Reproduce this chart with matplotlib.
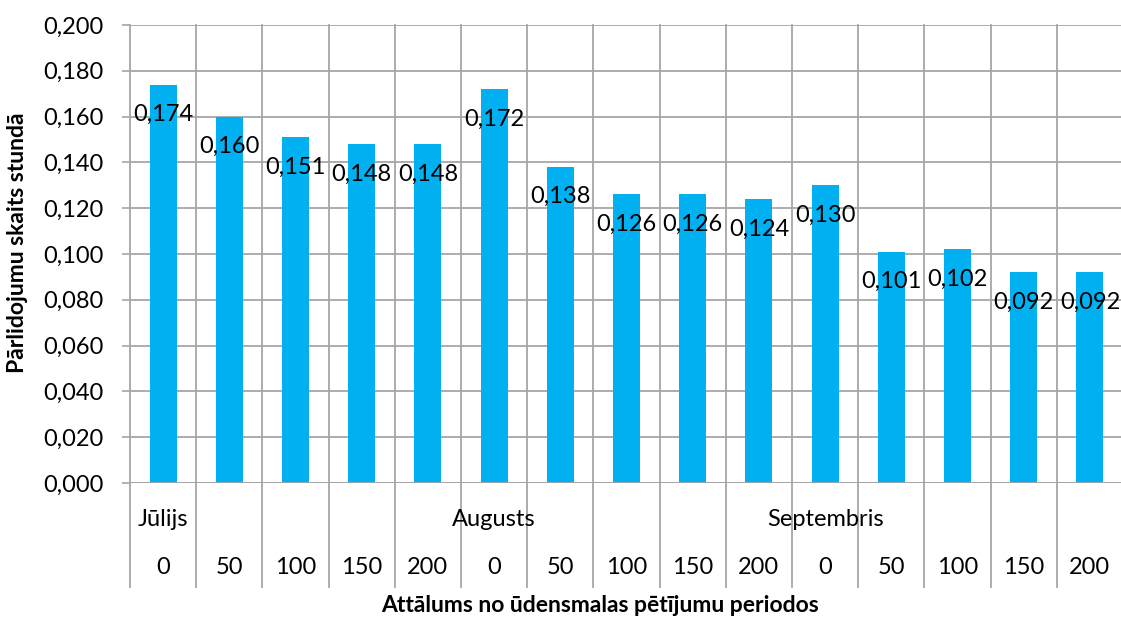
import matplotlib
matplotlib.use("Agg")
import matplotlib.pyplot as plt
import matplotlib.transforms as mtransforms

months = ["Jūlijs", "Augusts", "Septembris"]
month_start_idx = [0, 5, 10]
distances = ["0", "50", "100", "150", "200",
             "0", "50", "100", "150", "200",
             "0", "50", "100", "150", "200"]
values = [0.174, 0.160, 0.151, 0.148, 0.148,
          0.172, 0.138, 0.126, 0.126, 0.124,
          0.130, 0.101, 0.102, 0.092, 0.092]
y_ticks = [0.0, 0.02, 0.04, 0.06, 0.08, 0.10, 0.12, 0.14, 0.16, 0.18, 0.20]
y_label = "Pārlidojumu skaits stundā"
x_label = "Attālums no ūdensmalas pētījumu periodos"

plt.rcParams['font.family'] = ['Lato', 'DejaVu Sans']

W, H = 1121, 619
fig = plt.figure(figsize=(W / 100, H / 100), dpi=100)
ax_left, ax_right, ax_top, ax_bottom = 130, 1123, 25, 483
ax = fig.add_axes([ax_left / W, (H - ax_bottom) / H,
                   (ax_right - ax_left) / W, (ax_bottom - ax_top) / H])
ax_h_px = ax_bottom - ax_top

grid_color = "#a6a6a6"
bar_color = "#00b0f0"
fs = 17
n = len(values)
x = list(range(n))

ax.bar(x, values, width=0.41, color=bar_color, zorder=3)
ax.set_xlim(-0.5, n - 0.5)
ax.set_ylim(0, 0.2)

ax.set_yticks(y_ticks)
ax.set_yticklabels([f"{v:.3f}".replace(".", ",") for v in y_ticks], fontsize=fs)
ax.tick_params(axis="y", length=6, width=1.2, color=grid_color, pad=13)
ax.yaxis.grid(True, color=grid_color, linewidth=1.3, zorder=0)
ax.set_xticks([])
for s in ax.spines.values():
    s.set_visible(False)

# vertical category boundaries through plot and label rows
trans = mtransforms.blended_transform_factory(ax.transData, ax.transAxes)
ext = -(587 - ax_bottom) / ax_h_px
for b in range(n + 1):
    ax.plot([b - 0.5, b - 0.5], [1, ext], transform=trans, color=grid_color,
            linewidth=1.3, clip_on=False, zorder=1)
ax.axhline(0, color=grid_color, linewidth=1.3, zorder=4)

# data labels
for xi, v in zip(x, values):
    ax.annotate(f"{v:.3f}".replace(".", ","), (xi, v), xytext=(0, -21.5),
                textcoords="offset points", ha="center", va="center",
                fontsize=fs, color="black", zorder=5)

# category label rows
row1_y = -(519 - ax_bottom) / ax_h_px
row2_y = -(568 - ax_bottom) / ax_h_px
for m, idx in zip(months, month_start_idx):
    ax.text(idx, row1_y, m, transform=trans, ha="center", va="center",
            fontsize=fs, zorder=5)
for xi, d in zip(x, distances):
    ax.text(xi, row2_y, d, transform=trans, ha="center", va="center",
            fontsize=fs, zorder=5)

fig.text(600 / W, 1 - 606 / H, x_label, ha="center", va="center",
         fontsize=16.5, fontweight="bold")
fig.text(18 / W, 1 - 243 / H, y_label, ha="center", va="center",
         rotation=90, fontsize=16.5, fontweight="bold")

fig.savefig("out.png", dpi=100)
